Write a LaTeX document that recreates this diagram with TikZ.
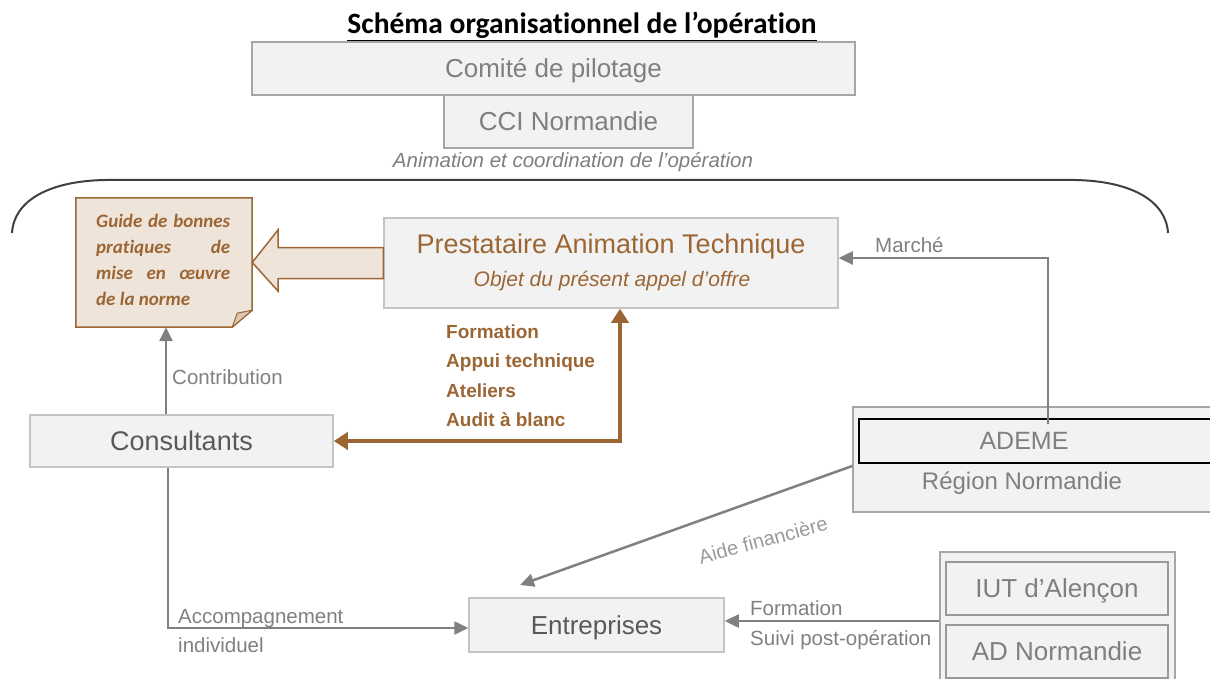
\documentclass[tikz,border=0pt]{standalone}
\usepackage{fontspec}
\setmainfont{Liberation Sans}
\newfontfamily\calib[Ligatures=NoCommon]{Carlito}
\usetikzlibrary{arrows.meta}
\definecolor{brn}{HTML}{9C6634}
\definecolor{brnfill}{HTML}{EEE4DA}
\definecolor{brnfold}{HTML}{DCC6B0}
\definecolor{bfill}{HTML}{F2F2F2}
\definecolor{bline}{HTML}{C4C4C4}
\definecolor{bdark}{HTML}{A6A6A6}
\definecolor{tgray}{HTML}{7F7F7F}
\definecolor{tdark}{HTML}{595959}
\definecolor{cgray}{HTML}{808080}
\definecolor{agray}{HTML}{9A9A9A}
\definecolor{brace}{HTML}{404040}
\begin{document}
\begin{tikzpicture}[x=1pt,y=-1pt,
  box/.style={draw=bline, fill=bfill, line width=1.5pt, inner sep=0pt, text=tgray, rectangle},
  darkbox/.style={box, draw=bdark},
  conn/.style={draw=cgray, line width=2.5pt, -{Triangle[length=14pt,width=13pt]}},
  lbl/.style={text=cgray, inner sep=0pt, anchor=base west, font=\fontsize{20.5}{20.5}\selectfont},
  brnlist/.style={text=brn, inner sep=0pt, anchor=base west, font=\fontsize{19}{19}\selectfont\bfseries},
  guideline/.style={text=brn, inner sep=0pt, anchor=base west, font=\calib\fontsize{19}{19}\selectfont\bfseries\itshape},
]
\useasboundingbox (0,0) rectangle (1210,679);

% title
\node[inner sep=0pt, anchor=base, font=\calib\fontsize{29.5}{29.5}\selectfont\bfseries] (title) at (582,34) {\underline{Schéma organisationnel de l’opération}};

% top boxes
\node[darkbox, minimum width=603pt, minimum height=53pt, font=\fontsize{26}{26}\selectfont, text height=18.6pt, text depth=0pt] (comite) at (553.5,68.5) {Comité de pilotage};
\node[darkbox, minimum width=249pt, minimum height=53pt, font=\fontsize{26}{26}\selectfont, text height=18.6pt, text depth=0pt] (cci) at (568.5,121.5) {CCI Normandie};
\node[inner sep=0pt, anchor=base, text=tgray, font=\fontsize{20.5}{20.5}\selectfont\itshape] (anim) at (573,168) {Animation et coordination de l’opération};

% brace
\draw[brace, line width=2pt] (12,233) .. controls (14,200) and (50,181) .. (105,180) -- (1075,180) .. controls (1130,181) and (1166,200) .. (1168,233);

% Prestataire box
\node[box, minimum width=454pt, minimum height=90pt] (prest) at (611,263) {};
\node[inner sep=0pt, anchor=base, text=brn, font=\fontsize{27}{27}\selectfont] (presttitle) at (611,254) {Prestataire Animation Technique};
\node[inner sep=0pt, anchor=base, text=brn, font=\fontsize{21}{21}\selectfont\itshape] (prestsub) at (612,286) {Objet du présent appel d’offre};

% Guide (note with folded corner)
\node[minimum width=176pt, minimum height=129pt, inner sep=0pt] (guide) at (164,262.5) {};
\draw[brn, fill=brnfill, line width=1.5pt] (guide.north west) -- (guide.north east) -- ([yshift=17pt]guide.south east) -- ([xshift=-20pt]guide.south east) -- (guide.south west) -- cycle;
\draw[brn, fill=brnfold, line width=1pt, line join=round] ([yshift=17pt]guide.south east) -- ([xshift=-15pt,yshift=14pt]guide.south east) -- ([xshift=-20pt]guide.south east) -- cycle;
\node[guideline] (g1) at (96,228) {\makebox[134pt][s]{Guide de bonnes}};
\node[guideline] (g2) at (96,253.5) {\makebox[134pt][s]{pratiques de}};
\node[guideline] (g3) at (96,279) {\makebox[134pt][s]{mise en œuvre}};
\node[guideline] (g4) at (96,305) {de la norme};

% block arrow from prestataire to guide
\draw[brn, fill=brnfill, line width=1.5pt] ([yshift=15.5pt]prest.west) -- (278,247.5) -- (278,230) -- (guide.east) -- (278,291) -- (278,278.5) -- ([yshift=-15.5pt]prest.west) -- cycle;

% list of services
\node[brnlist] (l1) at (446,338) {Formation};
\node[brnlist] (l2) at (446,367) {Appui technique};
\node[brnlist] (l3) at (446,397) {Ateliers};
\node[brnlist] (l4) at (446,426) {Audit à blanc};

% Consultants
\node[box, minimum width=303pt, minimum height=52pt, text=tdark, font=\fontsize{27}{27}\selectfont, text height=19.3pt, text depth=0pt] (cons) at (181.5,441) {Consultants};

% brown double arrow
\draw[brn, line width=4pt, {Triangle[length=14pt,width=17pt]}-{Triangle[length=14pt,width=17pt]}] (cons.east) -| ([xshift=9pt]prest.south);

% Contribution
\draw[conn] ([xshift=-15.5pt]cons.north) -- ([xshift=-15.5pt]cons.north |- guide.south);
\node[lbl] (contrib) at (172,384) {Contribution};

% Region / ADEME
\node[darkbox, minimum width=362pt, minimum height=105pt] (reg) at (1034,459.5) {};
\node[box, draw=black, line width=2pt, minimum width=356pt, minimum height=44pt, font=\fontsize{25}{25}\selectfont, text height=17.9pt, text depth=0pt] (ademe) at (1037,441) {\hspace*{-26pt}ADEME};
\node[inner sep=0pt, anchor=base, text=tgray, font=\fontsize{24}{24}\selectfont] (regtxt) at (1022,489) {Région Normandie};

% Marche
\draw[conn] ([xshift=11pt,yshift=-6pt]ademe.north) |- ([yshift=5pt]prest.east);
\node[lbl] (marche) at (875,252.5) {Marché};

% Entreprises
\node[box, minimum width=255pt, minimum height=54pt, text=tdark, font=\fontsize{26}{26}\selectfont, text height=18.6pt, text depth=0pt] (ent) at (596.5,625) {Entreprises};

% Aide financiere
\coordinate (aideend) at (520,585);
\draw[conn] ([yshift=-6.5pt]reg.west) -- (aideend);
\node[inner sep=0pt, rotate=15, text=agray, font=\fontsize{20}{20}\selectfont] (aide) at (763,540) {Aide financière};

% Accompagnement
\draw[conn] ([xshift=-13.5pt]cons.south) |- ([yshift=-3pt]ent.west);
\node[lbl] (acc1) at (178,623) {Accompagnement};
\node[lbl] (acc2) at (178,652) {individuel};

% IUT group
\node[darkbox, minimum width=235pt, minimum height=138pt] (iutgrp) at (1057.5,621) {};
\node[box, draw=tgray!80, minimum width=222pt, minimum height=53pt, font=\fontsize{26}{26}\selectfont, text height=18.6pt, text depth=0pt] (iut) at (1057,588.5) {IUT d’Alençon};
\node[box, draw=tgray!80, minimum width=222pt, minimum height=53pt, font=\fontsize{26}{26}\selectfont, text height=18.6pt, text depth=0pt] (adn) at (1057,651.5) {AD Normandie};

% Formation / suivi
\draw[conn] (iutgrp.west) -- (iutgrp.west -| ent.east);
\node[lbl] (form) at (750,615.5) {Formation};
\node[lbl] (suivi) at (750,645.5) {Suivi post-opération};
\end{tikzpicture}
\end{document}
